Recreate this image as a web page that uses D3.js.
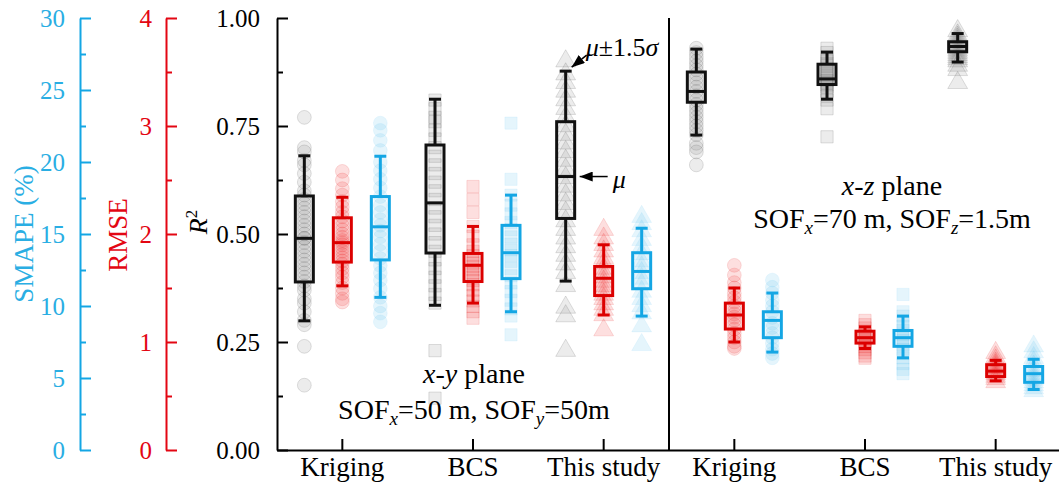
<!DOCTYPE html>
<meta charset="utf-8">

<!-- load d3 -->
<script src="https://d3js.org/d3.v7.min.js"></script>

<div id="chart"></div>
<style>
body{margin:0;background:#fff;}
</style>

<script>
  // categories
  var methods = ["Kriging", "BCS", "This study"];
  var planes = ["x-y", "x-z"];

  // tick values of the three left axes
  var smapeTicks = [0, 5, 10, 15, 20, 25, 30];
  var rmseTicks = [0, 1, 2, 3, 4];
  var r2Ticks = [0, 0.25, 0.5, 0.75, 1];

  // box stats: [lower whisker, box bottom, mean, box top, upper whisker]
  // order: x-y Kriging, x-y BCS, x-y This study, x-z Kriging, x-z BCS, x-z This study
  var r2Box = [
    [0.299, 0.389, 0.490, 0.588, 0.681],
    [0.335, 0.456, 0.572, 0.706, 0.812],
    [0.391, 0.536, 0.633, 0.760, 0.877],
    [0.729, 0.805, 0.830, 0.875, 0.928],
    [0.812, 0.846, 0.859, 0.893, 0.921],
    [0.898, 0.922, 0.934, 0.945, 0.964]
  ];
  var rmseBox = [
    [1.52, 1.74, 1.92, 2.15, 2.34],
    [1.36, 1.56, 1.71, 1.82, 2.07],
    [1.25, 1.43, 1.59, 1.70, 1.90],
    [1.00, 1.12, 1.25, 1.36, 1.50],
    [0.94, 0.99, 1.04, 1.10, 1.14],
    [0.64, 0.68, 0.73, 0.79, 0.83]
  ];
  var smapeBox = [
    [10.6, 13.2, 15.5, 17.6, 20.4],
    [9.6, 11.9, 13.7, 15.6, 17.7],
    [9.3, 11.2, 12.4, 13.7, 15.4],
    [6.8, 7.8, 9.0, 9.6, 10.9],
    [6.4, 7.2, 7.8, 8.3, 9.3],
    [4.2, 4.7, 5.3, 5.8, 6.3]
  ];

  // individual results behind each box
  var r2Pts = [
    [0.77, 0.70, 0.69, 0.67, 0.66, 0.64, 0.62, 0.60, 0.59, 0.58, 0.57, 0.56, 0.55, 0.54, 0.53, 0.52, 0.51, 0.50, 0.49, 0.49, 0.48, 0.47, 0.46, 0.45, 0.44, 0.43, 0.42, 0.41, 0.40, 0.39, 0.38, 0.37, 0.35, 0.34, 0.32, 0.30, 0.29, 0.24, 0.15],
    [0.81, 0.79, 0.77, 0.76, 0.74, 0.72, 0.70, 0.68, 0.66, 0.64, 0.62, 0.60, 0.58, 0.56, 0.54, 0.52, 0.50, 0.48, 0.46, 0.44, 0.42, 0.40, 0.38, 0.36, 0.34, 0.23, 0.12],
    [0.90, 0.87, 0.85, 0.83, 0.81, 0.79, 0.77, 0.75, 0.73, 0.71, 0.69, 0.67, 0.65, 0.63, 0.61, 0.59, 0.57, 0.55, 0.53, 0.51, 0.49, 0.47, 0.45, 0.43, 0.41, 0.38, 0.33, 0.31, 0.23],
    [0.93, 0.92, 0.91, 0.90, 0.89, 0.88, 0.87, 0.86, 0.85, 0.84, 0.83, 0.82, 0.81, 0.80, 0.79, 0.78, 0.77, 0.76, 0.75, 0.74, 0.73, 0.71, 0.70, 0.69, 0.66],
    [0.93, 0.92, 0.91, 0.90, 0.895, 0.89, 0.88, 0.875, 0.87, 0.865, 0.86, 0.855, 0.85, 0.845, 0.84, 0.83, 0.82, 0.81, 0.79, 0.725],
    [0.97, 0.96, 0.955, 0.95, 0.945, 0.94, 0.935, 0.93, 0.925, 0.92, 0.915, 0.91, 0.905, 0.90, 0.89, 0.88, 0.85]
  ];
  var rmsePts = [
    [2.58, 2.50, 2.42, 2.36, 2.30, 2.25, 2.20, 2.16, 2.12, 2.08, 2.04, 2.00, 1.97, 1.94, 1.92, 1.90, 1.87, 1.84, 1.81, 1.78, 1.75, 1.72, 1.68, 1.64, 1.60, 1.55, 1.50, 1.45, 1.40, 1.37],
    [2.44, 2.32, 2.20, 2.07, 1.98, 1.90, 1.84, 1.80, 1.76, 1.73, 1.70, 1.67, 1.64, 1.60, 1.57, 1.53, 1.48, 1.43, 1.38, 1.33, 1.28, 1.22],
    [2.04, 1.96, 1.90, 1.84, 1.78, 1.73, 1.68, 1.64, 1.60, 1.56, 1.52, 1.48, 1.44, 1.40, 1.35, 1.30, 1.25, 1.11],
    [1.71, 1.62, 1.55, 1.50, 1.45, 1.41, 1.37, 1.33, 1.29, 1.26, 1.23, 1.20, 1.16, 1.12, 1.08, 1.04, 1.00, 0.96, 0.94],
    [1.20, 1.16, 1.13, 1.10, 1.08, 1.06, 1.04, 1.02, 1.00, 0.98, 0.96, 0.93, 0.90, 0.87, 0.85],
    [0.90, 0.86, 0.83, 0.80, 0.78, 0.76, 0.74, 0.72, 0.70, 0.68, 0.66, 0.63]
  ];
  var smapePts = [
    [22.7, 22.2, 21.5, 20.8, 20.0, 19.4, 18.8, 18.2, 17.6, 17.0, 16.5, 16.0, 15.6, 15.2, 14.8, 14.3, 13.8, 13.3, 12.8, 12.3, 11.8, 11.2, 10.6, 10.0, 9.5, 8.9],
    [22.7, 18.8, 17.7, 17.0, 16.4, 15.8, 15.3, 14.8, 14.3, 13.9, 13.5, 13.1, 12.6, 12.1, 11.6, 11.0, 10.4, 9.8, 9.3, 8.0],
    [16.2, 15.7, 15.2, 14.6, 14.1, 13.6, 13.1, 12.7, 12.3, 11.9, 11.5, 11.0, 10.5, 10.0, 9.5, 8.6, 7.3],
    [11.8, 11.3, 10.9, 10.4, 10.0, 9.6, 9.2, 8.8, 8.5, 8.1, 7.8, 7.4, 7.0, 6.7, 6.4],
    [10.8, 9.6, 9.3, 8.9, 8.6, 8.3, 8.0, 7.8, 7.6, 7.3, 7.0, 6.7, 6.4, 6.0, 5.6, 5.3],
    [7.2, 6.8, 6.4, 6.1, 5.8, 5.5, 5.3, 5.1, 4.9, 4.7, 4.5, 4.3, 4.1]
  ];

  var width = 1059, height = 488;
  var top_ = 18, bottom = 450, plotLeft = 277, plotRight = 1061;
  var serif = "'Liberation Serif', 'DejaVu Serif', serif";

  var blue = "#14a6e4", red = "#e30613";

  var svg = d3.select("#chart")
    .append("svg")
      .attr("width", width)
      .attr("height", height)
      .attr("font-family", serif);

  // one band per plane/method pair
  var keys = [];
  planes.forEach(function(p){ methods.forEach(function(m){ keys.push(p + "|" + m); }); });

  var x = d3.scaleBand().domain(keys).range([plotLeft, plotRight]);
  var yR2 = d3.scaleLinear().domain([0, 1]).range([bottom, top_]);
  var yRmse = d3.scaleLinear().domain([0, 4]).range([bottom, top_]);
  var ySmape = d3.scaleLinear().domain([0, 30]).range([bottom, top_]);

  // left axes, ticks pointing right
  function leftAxis(scale, xPos, majors, color, labelColor, pad, fmt) {
    var minors = [];
    for (var i = 0; i < majors.length - 1; i++) minors.push((majors[i] + majors[i + 1]) / 2);
    var g = svg.append("g").attr("transform", "translate(" + xPos + ",0)");
    g.call(d3.axisLeft(scale).tickValues(majors).tickSizeInner(-11).tickSizeOuter(0).tickPadding(pad).tickFormat(fmt));
    g.select(".domain").attr("stroke", color).attr("stroke-width", 2);
    g.selectAll(".tick line").attr("stroke", color).attr("stroke-width", 2);
    g.selectAll(".tick text").attr("fill", labelColor).style("font-size", "25px");
    var m = svg.append("g").attr("transform", "translate(" + xPos + ",0)");
    m.call(d3.axisLeft(scale).tickValues(minors).tickSizeInner(-6).tickSizeOuter(0).tickFormat(""));
    m.select(".domain").remove();
    m.selectAll(".tick line").attr("stroke", color).attr("stroke-width", 2);
  }

  leftAxis(ySmape, 80, smapeTicks, blue, "#2aaee3", 15, d3.format("d"));
  leftAxis(yRmse, 166, rmseTicks, red, red, 14, d3.format("d"));
  leftAxis(yR2, 277, r2Ticks, "#000", "#000", 17, d3.format(".2f"));

  // axis titles
  svg.append("text")
    .attr("transform", "translate(33,234) rotate(-90)")
    .attr("text-anchor", "middle")
    .style("font-size", "27px")
    .attr("fill", "#2aaee3")
    .text("SMAPE (%)");
  svg.append("text")
    .attr("transform", "translate(127,235) rotate(-90)")
    .attr("text-anchor", "middle")
    .style("font-size", "27px")
    .attr("fill", red)
    .text("RMSE");
  var r2t = svg.append("text")
    .attr("transform", "translate(207,222) rotate(-90)")
    .attr("text-anchor", "middle")
    .style("font-size", "26px");
  r2t.append("tspan").style("font-style", "italic").text("R");
  r2t.append("tspan").attr("dy", -10).style("font-size", "17px").text("2");

  // bottom axis
  var xg = svg.append("g").attr("transform", "translate(0," + bottom + ")");
  xg.call(d3.axisBottom(x).tickSizeInner(-11).tickSizeOuter(0).tickPadding(7)
    .tickFormat(function(d){ return d.split("|")[1]; }));
  xg.select(".domain").attr("stroke", "#000").attr("stroke-width", 2);
  xg.selectAll(".tick line").attr("stroke", "#000").attr("stroke-width", 2);
  xg.selectAll(".tick text").attr("fill", "#000").style("font-size", "27px");

  // panel divider
  svg.append("line")
    .attr("x1", x(keys[3])).attr("x2", x(keys[3]))
    .attr("y1", top_).attr("y2", bottom)
    .attr("stroke", "#000").attr("stroke-width", 2);

  var shapes = [d3.symbolCircle, d3.symbolSquare, d3.symbolTriangle];
  var sizes = [150, 150, 170];

  var series = [
    {scale: yR2, box: r2Box, pts: r2Pts, dx: -38, line: "#111", fill: "#8a8a8a", fo: 0.16, stroke: "#555", so: 0.18},
    {scale: yRmse, box: rmseBox, pts: rmsePts, dx: 0, line: "#dc0000", fill: "#f03a3a", fo: 0.16, stroke: "#e00000", so: 0.12},
    {scale: ySmape, box: smapeBox, pts: smapePts, dx: 38, line: blue, fill: "#62c6f0", fo: 0.17, stroke: "#38b6ec", so: 0.08}
  ];

  // points first, boxes on top
  series.forEach(function(s){
    keys.forEach(function(k, i){
      var cx = x(k) + x.bandwidth() / 2 + s.dx;
      svg.append("g")
        .selectAll("path")
        .data(s.pts[i])
        .enter()
        .append("path")
          .attr("d", d3.symbol().type(shapes[i % 3]).size(sizes[i % 3]))
          .attr("transform", function(d){ return "translate(" + cx + "," + s.scale(d) + ")"; })
          .attr("fill", s.fill).attr("fill-opacity", s.fo)
          .attr("stroke", s.stroke).attr("stroke-opacity", s.so).attr("stroke-width", 1);
    });
  });

  series.forEach(function(s){
    keys.forEach(function(k, i){
      var cx = x(k) + x.bandwidth() / 2 + s.dx;
      var b = s.box[i], y = s.scale;
      var g = svg.append("g").attr("stroke", s.line).attr("stroke-width", 3).attr("fill", "none");
      g.append("line").attr("x1", cx).attr("x2", cx).attr("y1", y(b[4])).attr("y2", y(b[3]));
      g.append("line").attr("x1", cx).attr("x2", cx).attr("y1", y(b[1])).attr("y2", y(b[0]));
      g.append("line").attr("x1", cx - 6).attr("x2", cx + 6).attr("y1", y(b[4])).attr("y2", y(b[4]));
      g.append("line").attr("x1", cx - 6).attr("x2", cx + 6).attr("y1", y(b[0])).attr("y2", y(b[0]));
      g.append("rect").attr("x", cx - 9).attr("width", 18)
        .attr("y", y(b[3])).attr("height", y(b[1]) - y(b[3]));
      g.append("line").attr("x1", cx - 9).attr("x2", cx + 9).attr("y1", y(b[2])).attr("y2", y(b[2]));
    });
  });

  // arrows for the mean and the whisker
  svg.append("defs").append("marker")
    .attr("id", "head")
    .attr("viewBox", "0 -5 13 10")
    .attr("refX", 13).attr("refY", 0)
    .attr("markerUnits", "userSpaceOnUse")
    .attr("markerWidth", 13).attr("markerHeight", 10)
    .attr("orient", "auto")
    .append("path").attr("d", "M0,-5L13,0L0,5Z").attr("fill", "#000");

  var ax = x(keys[2]) + x.bandwidth() / 2 - 38;
  var topY = yR2(r2Box[2][4]), meanY = yR2(r2Box[2][2]);

  svg.append("line")
    .attr("x1", ax + 21).attr("y1", topY - 16)
    .attr("x2", ax + 6).attr("y2", topY - 4)
    .attr("stroke", "#000").attr("stroke-width", 1.5)
    .attr("marker-end", "url(#head)");
  var sig = svg.append("text").attr("x", ax + 20).attr("y", topY - 15).style("font-size", "26px");
  sig.append("tspan").style("font-style", "italic").text("μ");
  sig.append("tspan").text("±1.5");
  sig.append("tspan").style("font-style", "italic").text("σ");

  svg.append("line")
    .attr("x1", ax + 42).attr("y1", meanY)
    .attr("x2", ax + 14).attr("y2", meanY)
    .attr("stroke", "#000").attr("stroke-width", 1.5)
    .attr("marker-end", "url(#head)");
  svg.append("text").attr("x", ax + 47).attr("y", meanY + 11)
    .style("font-size", "26px").style("font-style", "italic").text("μ");

  // plane notes
  function planeNote(cx, y1, y2, a, b, sofA, sofB) {
    var t1 = svg.append("text").attr("x", cx).attr("y", y1).attr("text-anchor", "middle").style("font-size", "28px");
    t1.append("tspan").style("font-style", "italic").text(a + "-" + b);
    t1.append("tspan").text(" plane");
    var t2 = svg.append("text").attr("x", cx).attr("y", y2).attr("text-anchor", "middle").style("font-size", "28px");
    t2.append("tspan").text("SOF");
    t2.append("tspan").attr("dy", 6).style("font-size", "19px").style("font-style", "italic").text(a);
    t2.append("tspan").attr("dy", -6).text("=" + sofA + ", SOF");
    t2.append("tspan").attr("dy", 6).style("font-size", "19px").style("font-style", "italic").text(b);
    t2.append("tspan").attr("dy", -6).text("=" + sofB);
  }
  planeNote(474, 383, 419, "x", "y", "50 m", "50m");
  planeNote(892, 195, 228, "x", "z", "70 m", "1.5m");

  // serif everywhere, inline so the axis defaults do not win
  svg.selectAll("text").style("font-family", serif);
</script>
